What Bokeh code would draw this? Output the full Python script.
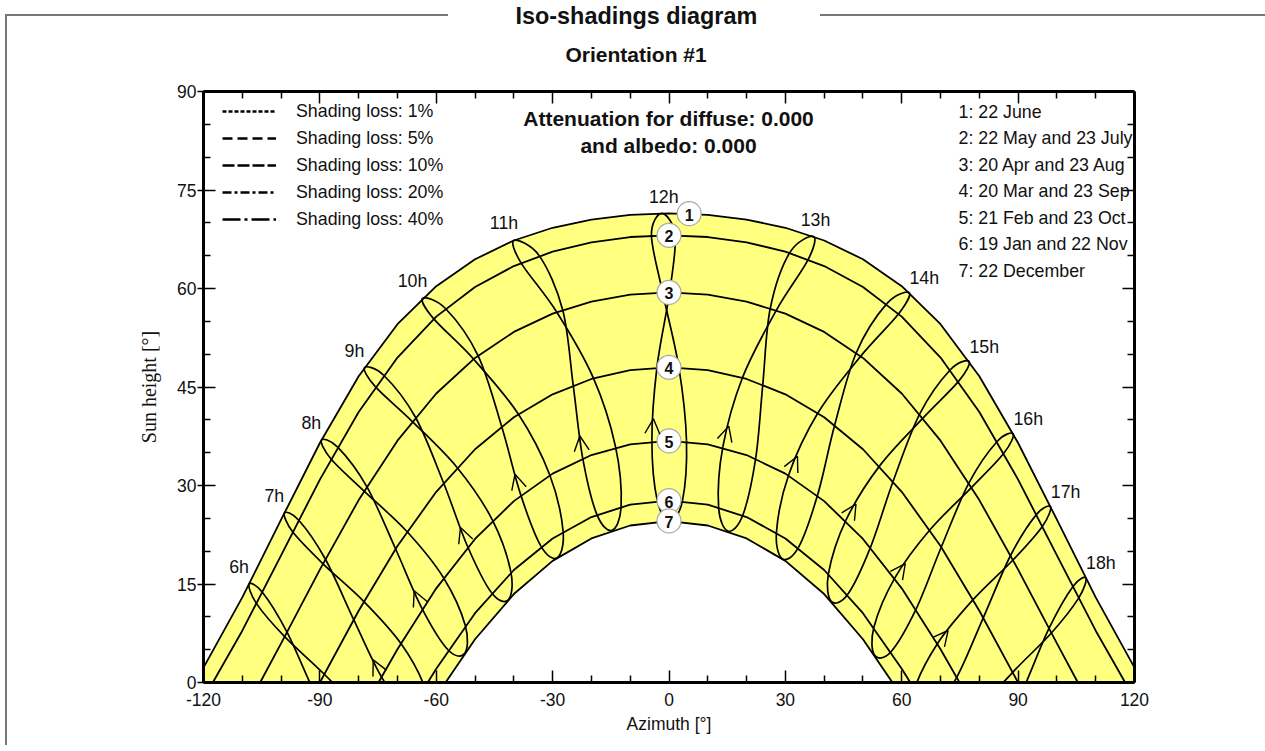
from bokeh.plotting import figure
from bokeh.models import (Range1d, FixedTicker, LinearAxis, ColumnDataSource, Label, Legend,
                          LegendItem, Arrow, OpenHead, Title)
from bokeh.embed import file_html
from bokeh.resources import INLINE
from bokeh.core.properties import value

# ---------------- data: sun paths (azimuth [deg], sun height [deg]) ----------------
C1_AZ = [-122.4, -120, -110, -100, -90, -80, -70, -60, -50, -40, -30, -20, -10, 0,
         10, 20, 30, 40, 50, 60, 70, 80, 90, 100, 110, 120, 122.4]
C1_H = [0, 2.27, 12.96, 24.79, 36.47, 46.63, 54.56, 60.35, 64.45, 67.31, 69.25, 70.50, 71.21, 71.44,
        71.21, 70.50, 69.25, 67.31, 64.45, 60.35, 54.56, 46.63, 36.47, 24.79, 12.96, 2.27, 0]
C2_AZ = [-117.6, -110, -100, -90, -80, -70, -60, -50, -40, -30, -20, -10, 0,
         10, 20, 30, 40, 50, 60, 70, 80, 90, 100, 110, 117.6]
C2_H = [0, 7.89, 19.37, 30.90, 41.20, 49.49, 55.72, 60.23, 63.42, 65.61, 67.03, 67.84, 68.10,
        67.84, 67.03, 65.61, 63.42, 60.23, 55.72, 49.49, 41.20, 30.90, 19.37, 7.89, 0]
C3_AZ = [-105.4, -100, -90, -80, -70, -60, -50, -40, -30, -20, -10, 0,
         10, 20, 30, 40, 50, 60, 70, 80, 90, 100, 105.4]
C3_H = [0, 5.95, 17.18, 27.78, 36.83, 44.01, 49.43, 53.39, 56.18, 58.01, 59.06, 59.40,
        59.06, 58.01, 56.18, 53.39, 49.43, 44.01, 36.83, 27.78, 17.18, 5.95, 0]
C4_AZ = [-90, -80, -70, -60, -50, -40, -30, -20, -10, 0, 10, 20, 30, 40, 50, 60, 70, 80, 90]
C4_H = [0, 10.92, 20.80, 29.04, 35.52, 40.39, 43.89, 46.22, 47.56, 48.00,
        47.56, 46.22, 43.89, 40.39, 35.52, 29.04, 20.80, 10.92, 0]
C5_AZ = [-74.9, -70, -60, -50, -40, -30, -20, -10, 0, 10, 20, 30, 40, 50, 60, 70, 74.9]
C5_H = [0, 5.06, 14.34, 21.86, 27.62, 31.81, 34.64, 36.26, 36.80,
        36.26, 34.64, 31.81, 27.62, 21.86, 14.34, 5.06, 0]
C6_AZ = [-62.2, -60, -50, -40, -30, -20, -10, 0, 10, 20, 30, 40, 50, 60, 62.2]
C6_H = [0, 2.09, 10.56, 17.13, 21.94, 25.20, 27.08, 27.70, 27.08, 25.20, 21.94, 17.13, 10.56, 2.09, 0]
C7_AZ = [-57.6, -50, -40, -30, -20, -10, 0, 10, 20, 30, 40, 50, 57.6]
C7_H = [0, 6.59, 13.47, 18.52, 21.94, 23.91, 24.56, 23.91, 21.94, 18.52, 13.47, 6.59, 0]

# ---------------- data: hour lines (order: 22 Jun, 23 Jul, 23 Aug, 23 Sep, 23 Oct, 22 Nov,
#                  22 Dec, 19 Jan, 21 Feb, 20 Mar, 20 Apr, 22 May) ----------------
A06_AZ = [-108.25, -106.33, -99.08, -88.86, -79.22, -72.59, -71.99, -76.40, -83.99, -91.39, -98.47, -104.82]
A06_H = [14.98, 12.01, 6.98, 1.26, -4.76, -11.07, -15.26, -15.46, -10.12, -1.55, 7.66, 13.75]
A07_AZ = [-99.17, -96.98, -89.19, -78.65, -69.14, -62.97, -62.66, -66.97, -74.11, -81.28, -88.57, -95.44]
A07_H = [25.79, 22.91, 18.08, 12.33, 5.97, -0.76, -4.99, -4.89, 0.83, 9.57, 18.77, 24.71]
A08_AZ = [-89.62, -87.13, -78.60, -67.56, -58.13, -52.51, -52.65, -56.92, -63.63, -70.50, -77.90, -85.41]
A08_H = [36.90, 34.04, 29.15, 22.99, 15.95, 8.67, 4.44, 4.95, 11.22, 20.37, 29.83, 35.84]
A09_AZ = [-78.50, -75.71, -66.22, -54.64, -45.52, -40.75, -41.44, -45.74, -51.89, -58.13, -65.36, -73.56]
A09_H = [47.94, 45.05, 39.77, 32.75, 24.74, 16.78, 12.59, 13.66, 20.67, 30.42, 40.39, 46.79]
A10_AZ = [-63.54, -60.68, -50.39, -38.85, -30.76, -27.30, -28.79, -32.98, -38.22, -43.17, -49.23, -57.62]
A10_H = [58.51, 55.41, 49.26, 40.89, 31.64, 23.03, 19.01, 20.73, 28.57, 39.05, 49.79, 56.95]
A11_AZ = [-39.96, -38.19, -28.95, -19.48, -13.78, -12.34, -14.72, -18.60, -22.26, -24.70, -27.40, -33.42]
A11_H = [67.33, 63.94, 56.41, 46.34, 35.89, 26.83, 23.16, 25.60, 34.21, 45.30, 56.73, 64.97]
A12_AZ = [-1.87, -4.53, -1.64, 2.54, 4.51, 3.47, 0.25, -3.02, -4.41, -3.11, 0.15, 1.59]
A12_H = [71.44, 68.10, 59.40, 48.00, 36.80, 27.70, 24.56, 27.70, 36.80, 48.00, 59.40, 68.10]
A13_AZ = [37.26, 31.13, 26.11, 24.18, 22.36, 19.04, 15.20, 12.78, 13.88, 18.96, 27.66, 35.90]
A13_H = [67.93, 65.46, 56.99, 45.40, 34.19, 25.51, 23.06, 26.74, 35.87, 46.45, 56.67, 64.43]
A14_AZ = [61.94, 56.15, 48.28, 42.73, 38.30, 33.38, 29.23, 27.70, 30.84, 38.41, 49.43, 59.20]
A14_H = [59.37, 57.69, 50.22, 39.24, 28.54, 20.57, 18.83, 22.87, 31.61, 41.07, 49.70, 56.15]
A15_AZ = [77.40, 72.53, 64.64, 57.78, 51.96, 46.09, 41.84, 41.10, 45.59, 54.29, 65.51, 74.68]
A15_H = [48.88, 47.63, 40.91, 30.65, 20.62, 13.44, 12.35, 16.57, 24.69, 32.99, 40.29, 45.89]
A16_AZ = [88.74, 84.59, 77.32, 70.20, 63.69, 57.23, 53.01, 52.82, 58.19, 67.27, 78.02, 86.31]
A16_H = [37.86, 36.70, 30.39, 20.63, 11.17, 4.69, 4.14, 8.41, 15.90, 23.25, 29.71, 34.90]
A17_AZ = [98.37, 94.70, 88.05, 81.01, 74.16, 67.25, 62.98, 63.25, 69.19, 78.39, 88.67, 96.24]
A17_H = [26.75, 25.57, 19.34, 9.85, 0.77, -5.18, -5.31, -1.05, 5.91, 12.61, 18.65, 23.77]
A18_AZ = [107.47, 104.09, 97.96, 91.14, 84.04, 76.67, 72.29, 72.86, 79.27, 88.61, 98.57, 105.60]
A18_H = [15.90, 14.59, 8.23, -1.26, -10.18, -15.77, -15.62, -11.38, -4.82, 1.55, 7.54, 12.85]

HOURS = [6, 7, 8, 9, 10, 11, 12, 13, 14, 15, 16, 17, 18]
HOUR_LABELS = ["6h", "7h", "8h", "9h", "10h", "11h", "12h", "13h", "14h", "15h", "16h", "17h", "18h"]

# direction arrows (start = 21 Feb point of the hour line, tip)
ARROW_HOURS = [7, 8, 9, 10, 11, 12, 13, 14, 15, 16, 17]
ARROW_TIP_AZ = [-76.26, -65.69, -53.76, -39.71, -22.99, -4.02, 15.40, 33.11, 48.20, 60.91, 71.95]
ARROW_TIP_H = [3.45, 13.97, 23.60, 31.71, 37.54, 40.16, 39.04, 34.45, 27.18, 18.11, 7.92]

DATE_MARKS = ["1", "2", "3", "4", "5", "6", "7"]
DATE_MARK_AZ = [5.2, 0, 0, 0, 0, 0, 0]
DATE_MARK_H = [71.4, 68.1, 59.4, 48.0, 36.8, 27.7, 24.6]
DATE_LABELS = ["1: 22 June", "2: 22 May and 23 July", "3: 20 Apr and 23 Aug", "4: 20 Mar and 23 Sep",
               "5: 21 Feb and 23 Oct", "6: 19 Jan and 22 Nov", "7: 22 December"]
LOSS_LABELS = ["Shading loss: 1%", "Shading loss: 5%", "Shading loss: 10%",
               "Shading loss: 20%", "Shading loss: 40%"]
X_TICKS = [-120, -90, -60, -30, 0, 30, 60, 90, 120]
X_MINOR = [-110, -100, -80, -70, -50, -40, -20, -10, 10, 20, 40, 50, 70, 80, 100, 110]
Y_TICKS = [0, 15, 30, 45, 60, 75, 90]
Y_MINOR = [5, 10, 20, 25, 35, 40, 50, 55, 65, 70, 80, 85]

# ---------------- styles ----------------
SANS = "Liberation Sans"
SERIF = "Liberation Serif"
YELLOW = "#FFFF80"
INK = "#111111"
LOSS_DASHES = ["4 2", "10 5", "12 3", "9 3 3 3", "18 4 3 4"]

analemmas = [(A06_AZ, A06_H), (A07_AZ, A07_H), (A08_AZ, A08_H), (A09_AZ, A09_H), (A10_AZ, A10_H),
             (A11_AZ, A11_H), (A12_AZ, A12_H), (A13_AZ, A13_H), (A14_AZ, A14_H), (A15_AZ, A15_H),
             (A16_AZ, A16_H), (A17_AZ, A17_H), (A18_AZ, A18_H)]
date_curves = [(C1_AZ, C1_H), (C2_AZ, C2_H), (C3_AZ, C3_H), (C4_AZ, C4_H),
               (C5_AZ, C5_H), (C6_AZ, C6_H), (C7_AZ, C7_H)]


def smooth_closed(xs, ys):
    """Catmull-Rom bezier segments through the points of a closed loop."""
    n = len(xs)
    d = {k: [] for k in ("x0", "y0", "x1", "y1", "cx0", "cy0", "cx1", "cy1")}
    for i in range(n):
        i0, i2, i3 = (i - 1) % n, (i + 1) % n, (i + 2) % n
        d["x0"].append(xs[i]); d["y0"].append(ys[i])
        d["x1"].append(xs[i2]); d["y1"].append(ys[i2])
        d["cx0"].append(xs[i] + (xs[i2] - xs[i0]) / 6.0)
        d["cy0"].append(ys[i] + (ys[i2] - ys[i0]) / 6.0)
        d["cx1"].append(xs[i2] - (xs[i3] - xs[i]) / 6.0)
        d["cy1"].append(ys[i2] - (ys[i3] - ys[i]) / 6.0)
    return d


W, H = 1265, 745
FL, FR, FT, FB = 203, 1134, 91, 682          # plot frame edges in page pixels
p = figure(width=W, height=H, output_backend="svg", toolbar_location=None,
           x_range=Range1d(-120, 120), y_range=Range1d(0, 90),
           min_border_left=FL, min_border_right=W - FR, min_border_top=FT, min_border_bottom=H - FB,
           x_axis_label="Azimuth [°]", y_axis_label="Sun height [°]")
p.background_fill_color = "white"
p.border_fill_color = "white"
p.border_fill_alpha = 0
p.outline_line_color = None
p.grid.visible = False
# grey page frame (behind the transparent border area of the canvas)
GREY = "#777777"
p.styles = {
    "background-color": "white",
    "background-image": "linear-gradient(%s,%s), linear-gradient(%s,%s), linear-gradient(%s,%s)"
                        % (GREY, GREY, GREY, GREY, GREY, GREY),
    "background-size": "443px 2px, 445px 2px, 2px 740px",
    "background-position": "5px 14px, 820px 14px, 5px 14px",
    "background-repeat": "no-repeat",
}

# yellow area between 22 June and 22 December paths
p.patch(C1_AZ + C7_AZ[::-1], C1_H + C7_H[::-1], fill_color=YELLOW, line_color=None)

for az, hh in date_curves:
    p.line(az, hh, line_color="black", line_width=1.8)

for az, hh in analemmas:
    src = ColumnDataSource(smooth_closed(az, hh))
    p.bezier(x0="x0", y0="y0", x1="x1", y1="y1", cx0="cx0", cy0="cy0", cx1="cx1", cy1="cy1",
             source=src, line_color="black", line_width=1.7)

# arrows
base_az = [analemmas[HOURS.index(hr)][0][8] for hr in ARROW_HOURS]
base_h = [analemmas[HOURS.index(hr)][1][8] for hr in ARROW_HOURS]
arrow_src = ColumnDataSource(dict(xs=base_az, ys=base_h, xe=ARROW_TIP_AZ, ye=ARROW_TIP_H))
p.add_layout(Arrow(x_start="xs", y_start="ys", x_end="xe", y_end="ye", source=arrow_src,
                   line_alpha=0, end=OpenHead(size=15, line_width=1.4, line_color="black")))

# hour labels near the 22 June end of each hour line
dx = [-10 if hr < 12 else (2 if hr <= 13 else 15) for hr in HOURS]
dy = [-17 if hr < 12 else (-16 if hr <= 13 else -15) for hr in HOURS]
hl_src = ColumnDataSource(dict(x=[a[0][0] for a in analemmas], y=[a[1][0] for a in analemmas],
                               t=HOUR_LABELS, dx=dx, dy=dy))
p.text(x="x", y="y", text="t", x_offset="dx", y_offset="dy", source=hl_src,
       text_font=value(SANS), text_font_size="17.8px", text_align="center",
       text_baseline="middle", text_color=INK)

# numbered date marks
p.scatter(DATE_MARK_AZ, DATE_MARK_H, size=24, marker="circle", fill_color="white",
          line_color="#a8a8a8", line_width=1.2)
p.text(DATE_MARK_AZ, DATE_MARK_H, text=DATE_MARKS, text_font=value(SANS), text_font_size="16px",
       text_font_style="bold", text_align="center", text_baseline="middle", text_color=INK,
       y_offset=1)

# axes
tick_font = "17.5px"
for ax in (p.xaxis[0], p.yaxis[0]):
    ax.axis_line_width = 3
    ax.major_tick_line_width = 1.5
    ax.minor_tick_line_width = 1.5
    ax.major_tick_in = 12
    ax.minor_tick_in = 7
    ax.minor_tick_out = 0
    ax.major_label_text_font = SANS
    ax.major_label_text_font_size = tick_font
    ax.major_label_text_color = INK
    ax.axis_label_text_font_style = "normal"
    ax.axis_label_text_color = INK
p.xaxis[0].ticker = FixedTicker(ticks=X_TICKS, minor_ticks=X_MINOR)
p.xaxis[0].major_label_overrides = {t: str(t) for t in X_TICKS}
p.yaxis[0].ticker = FixedTicker(ticks=Y_TICKS, minor_ticks=Y_MINOR)
p.xaxis[0].major_tick_out = 0
p.xaxis[0].major_label_standoff = 10
p.xaxis[0].axis_label_standoff = 5
p.xaxis[0].axis_label_text_font = SANS
p.xaxis[0].axis_label_text_font_size = "17.5px"
p.yaxis[0].major_tick_out = 6
p.yaxis[0].major_label_standoff = 1
p.yaxis[0].axis_label_standoff = 14
p.yaxis[0].axis_label_text_font = SERIF
p.yaxis[0].axis_label_text_font_size = "20px"

top_ax = LinearAxis(ticker=FixedTicker(ticks=X_TICKS, minor_ticks=X_MINOR))
right_ax = LinearAxis(ticker=FixedTicker(ticks=Y_TICKS, minor_ticks=Y_MINOR))
for ax in (top_ax, right_ax):
    ax.axis_line_width = 3
    ax.major_tick_line_width = 1.5
    ax.minor_tick_line_width = 1.5
    ax.major_tick_in = 12
    ax.major_tick_out = 0
    ax.minor_tick_in = 7
    ax.minor_tick_out = 0
    ax.major_label_text_font_size = "0px"
    ax.major_label_text_alpha = 0
    ax.major_label_standoff = 0
# tiny white labels on the top axis only reserve the gap between frame and sub-title
top_ax.major_label_text_font_size = "1px"
top_ax.major_label_text_alpha = 1
top_ax.major_label_text_color = "white"
top_ax.major_label_standoff = 9
p.add_layout(top_ax, "above")
p.add_layout(right_ax, "right")

# titles (side panel above the frame, stacked outward from the frame)
p.add_layout(Title(text="Orientation #1", align="left", offset=565 - FL, text_font=SANS,
                   text_font_size="21px", text_font_style="bold", text_color=INK,
                   standoff=25), "above")
p.add_layout(Title(text="Iso-shadings diagram", align="left", offset=515 - FL, text_font=SANS,
                   text_font_size="23.4px", text_font_style="bold", text_color=INK,
                   standoff=0), "above")

# shading-loss legend (line styles only; no iso-shading curve is present)
NAN = float("nan")
items = []
for lab, dash in zip(LOSS_LABELS, LOSS_DASHES):
    r = p.line([NAN, NAN], [NAN, NAN], line_color="black", line_width=2.6, line_dash=dash)
    items.append(LegendItem(label=lab, renderers=[r]))
leg = Legend(items=items, location=(19, 451), border_line_color=None, background_fill_alpha=0,
             label_text_font=SANS, label_text_font_size="17.8px", label_text_color=INK,
             glyph_width=54, glyph_height=24, label_height=24, spacing=3, padding=0, margin=0,
             label_standoff=20)
p.add_layout(leg)


# texts inside the frame (screen units, relative to the plot frame's bottom-left corner)
def add_label(txt, px, py, size, bold=False, align="center"):
    p.add_layout(Label(x=px - FL, y=FB - py, x_units="screen", y_units="screen", text=txt,
                       text_font=SANS, text_font_size=size,
                       text_font_style="bold" if bold else "normal",
                       text_align=align, text_baseline="middle", text_color=INK))


add_label("Attenuation for diffuse: 0.000", 668, 118, "21px", bold=True)
add_label("and albedo: 0.000", 668, 145, "21px", bold=True)
for i, txt in enumerate(DATE_LABELS):
    add_label(txt, 958, 111 + 26.5 * i, "17.8px", align="left")

open("out.html", "w").write(file_html(p, INLINE))
